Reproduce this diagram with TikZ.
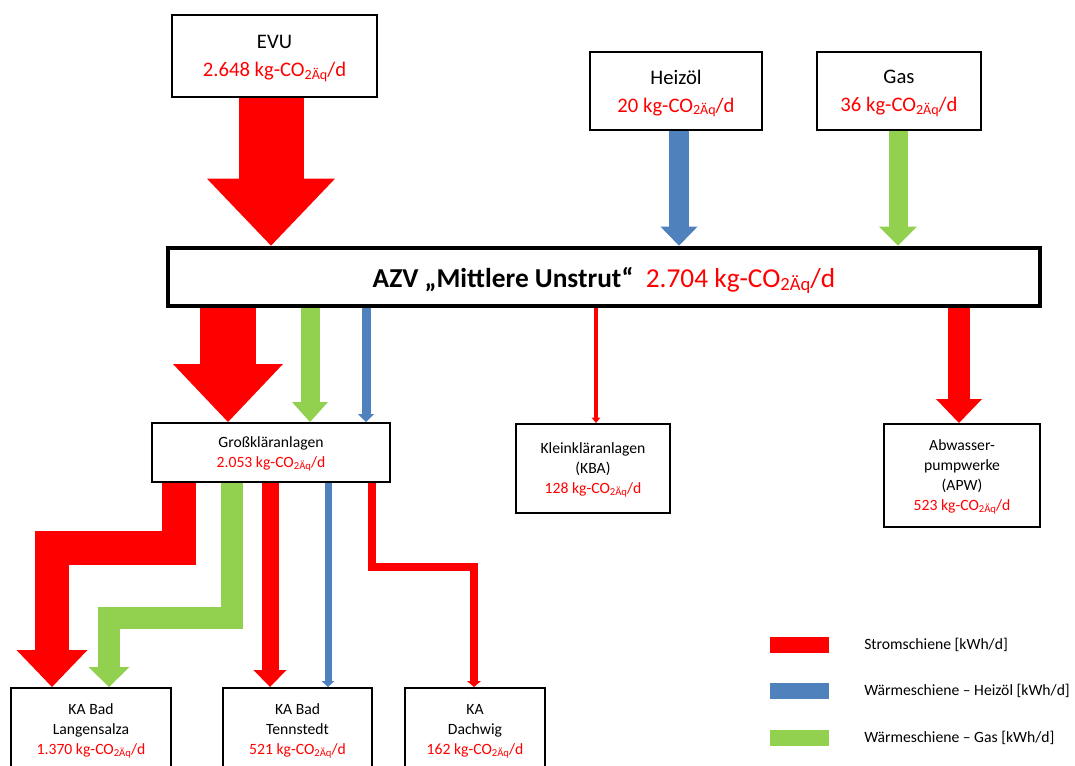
\documentclass[tikz,border=0pt]{standalone}
\usepackage{fontspec}
\usepackage{graphicx}
\setmainfont{Carlito}
\usetikzlibrary{arrows.meta}
\definecolor{xred}{HTML}{FF0000}
\definecolor{xblue}{HTML}{4F81BD}
\definecolor{xgreen}{HTML}{92D050}
\newcommand{\kgco}{kg-CO\raisebox{-0.25ex}{\scalebox{0.68}{2Äq}}/d}
\begin{document}
\begin{tikzpicture}[x=0.75pt,y=-0.75pt,
  box/.style={draw=black, line width=1.5pt, fill=white, align=center, inner sep=0pt, text depth=0pt},
  big/.style={font=\fontsize{15.5}{21}\selectfont},
  small/.style={font=\fontsize{11.75}{15}\selectfont},
  blk/.style n args={3}{line width=#1, line join=miter, line cap=butt,
     -{Triangle[width=#2,length=#3,line width=0pt]}},
  legbar/.style={minimum width=44.25pt, minimum height=12pt, inner sep=0pt}]
\useasboundingbox (0,0) rectangle (1075,765);
\clip (0,0) rectangle (1075,765);
% boxes
\node[box,big,minimum width=153.75pt,minimum height=61.5pt] (evu) at (274.5,56) {EVU\\\textcolor{xred}{2.648 \kgco}};
\node[box,big,minimum width=129pt,minimum height=58.5pt] (heiz) at (676,91) {Heizöl\\\textcolor{xred}{20 \kgco}};
\node[box,big,minimum width=123pt,minimum height=58.5pt] (gas) at (899,91) {Gas\\\textcolor{xred}{36 \kgco}};
\node[box,line width=3.5pt,minimum width=654pt,minimum height=43.5pt,font=\fontsize{20.5}{24}\selectfont] (bar) at (604,277) {\textbf{AZV „Mittlere Unstrut“}\ \ \textcolor{xred}{2.704 \kgco}};
\node[box,small,minimum width=178.5pt,minimum height=44.25pt] (gka) at (271,452.5) {Großkläranlagen\\\textcolor{xred}{2.053 \kgco}};
\node[box,small,minimum width=115.5pt,minimum height=66.75pt] (kba) at (593,468.5) {Kleinkläranlagen\\(KBA)\\\textcolor{xred}{128 \kgco}};
\node[box,small,minimum width=117pt,minimum height=77.25pt] (apw) at (962,475.5) {Abwasser-\\pumpwerke\\(APW)\\\textcolor{xred}{523 \kgco}};
\node[box,minimum width=120pt,minimum height=90pt,anchor=north] (lang) at (91,687) {};
\node[small,align=center] (langt) at (91,731) {KA Bad\\Langensalza\\\textcolor{xred}{1.370 \kgco}};
\node[box,minimum width=111.75pt,minimum height=90pt,anchor=north] (tenn) at (297.5,687) {};
\node[small,align=center] (tennt) at (297.5,731) {KA Bad\\Tennstedt\\\textcolor{xred}{521 \kgco}};
\node[box,minimum width=105pt,minimum height=90pt,anchor=north] (dach) at (475,687) {};
\node[small,align=center] (dacht) at (475,731) {KA\\Dachwig\\\textcolor{xred}{162 \kgco}};
% arrows into the bar
\draw[xred,blk={48.75pt}{96pt}{50.25pt}] (271,0 |- evu.south) -- (271,0 |- bar.north);
\draw[xblue,blk={15pt}{27.75pt}{14.25pt}] (679,0 |- heiz.south) -- (679,0 |- bar.north);
\draw[xgreen,blk={14.25pt}{28.5pt}{14.25pt}] (898,0 |- gas.south) -- (898,0 |- bar.north);
% arrows out of the bar
\draw[xred,blk={42pt}{82.5pt}{43.5pt}] (228,0 |- bar.south) -- (228,0 |- gka.north);
\draw[xgreen,blk={14.25pt}{27pt}{15pt}] (310,0 |- bar.south) -- (310,0 |- gka.north);
\draw[xblue,blk={6.75pt}{12pt}{6pt}] (366,0 |- bar.south) -- (366,0 |- gka.north);
\draw[xred,blk={3pt}{6.5pt}{4pt}] (596,0 |- bar.south) -- (596,0 |- kba.north);
\draw[xred,blk={16.5pt}{34.5pt}{18pt}] (959,0 |- bar.south) -- (959,0 |- apw.north);
% arrows out of Grosskläranlagen
\draw[xred,blk={25.5pt}{53.25pt}{27.75pt}] (179,0 |- gka.south) -- (179,548) -- (52,548) -- (52,0 |- lang.north);
\draw[xgreen,blk={16.5pt}{30.75pt}{15pt}] (232,0 |- gka.south) -- (232,618) -- (109,618) -- (109,0 |- lang.north);
\draw[xred,blk={12.75pt}{24.75pt}{12.75pt}] (270,0 |- gka.south) -- (270,0 |- tenn.north);
\draw[xblue,blk={5.25pt}{9.75pt}{4.5pt}] (328,0 |- gka.south) -- (328,0 |- tenn.north);
\draw[xred,blk={6pt}{10.5pt}{4.5pt}] (371.5,0 |- gka.south) -- (371.5,567) -- (474,567) -- (474,0 |- dach.north);
% legend
\node[legbar,fill=xred] (l1) at (799.5,645) {};
\node[legbar,fill=xblue] (l2) at (799.5,691) {};
\node[legbar,fill=xgreen] (l3) at (799.5,738) {};
\node[small,anchor=west,inner sep=0pt] (t1) at (864,645) {Stromschiene [kWh/d]};
\node[small,anchor=west,inner sep=0pt] (t2) at (864,691) {Wärmeschiene – Heizöl [kWh/d]};
\node[small,anchor=west,inner sep=0pt] (t3) at (864,738) {Wärmeschiene – Gas [kWh/d]};
\end{tikzpicture}
\end{document}
